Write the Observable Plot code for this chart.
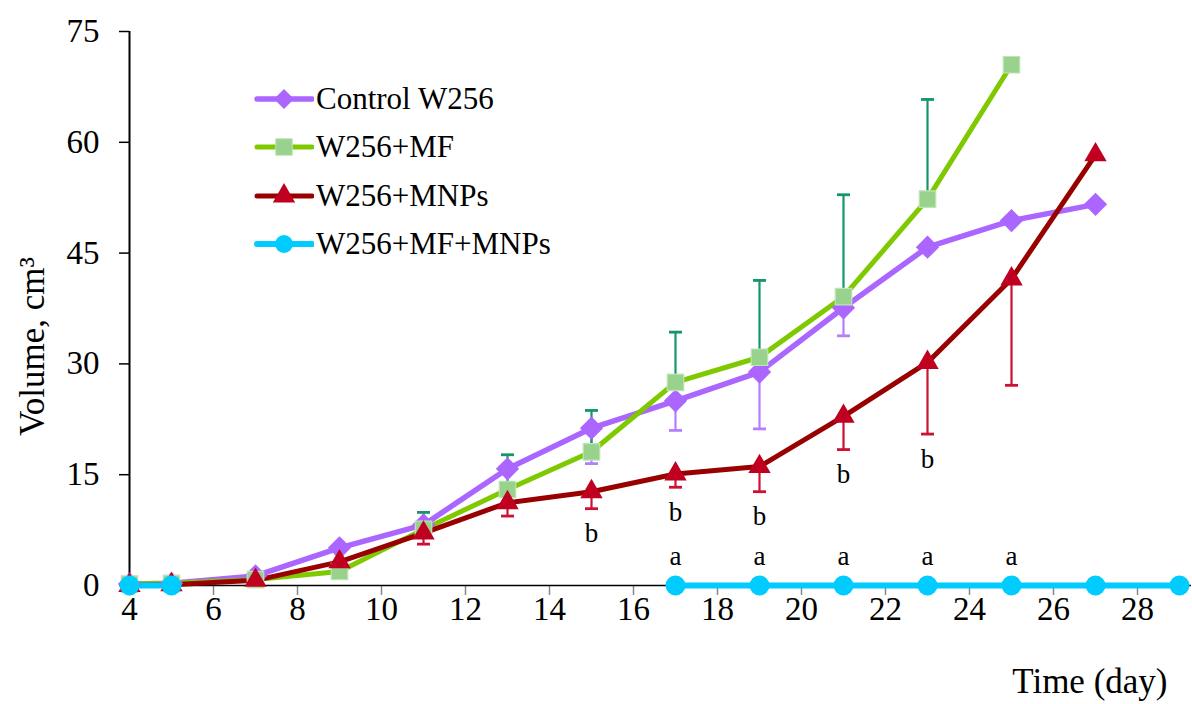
<!DOCTYPE html>
<html><head><meta charset="utf-8">
<script src="https://cdn.jsdelivr.net/npm/d3@7"></script>
<script src="https://cdn.jsdelivr.net/npm/@observablehq/plot@0.6"></script>
<style>
body{margin:0;background:#fff;}
#wrap{position:relative;width:1192px;height:704px;font-family:'Liberation Serif','Times New Roman',serif;}
#legend{position:absolute;left:250px;top:75px;font-family:'Liberation Serif','Times New Roman',serif;}
.row{display:flex;align-items:center;height:48.3px;font-size:31px;color:#000;white-space:nowrap;}
.row svg{display:block;margin-right:2px;}
</style></head><body><div id="wrap"></div>
<script>
// ---- data ----
const days = [4, 5, 7, 9, 11, 13, 15, 17, 19, 21, 23, 25, 27];
const control = [0.2, 0.3, 1.3, 5.1, 8.2, 15.8, 21.3, 25.0, 28.9, 37.6, 45.8, 49.4, 51.6];
const controlSD = [null, null, null, null, null, null, 4.8, 4.0, 7.7, 3.8, null, null, null];
const mfDays = [4, 5, 7, 9, 11, 13, 15, 17, 19, 21, 23, 25];
const mf = [0.2, 0.3, 0.8, 1.9, 7.6, 13.0, 18.1, 27.5, 30.9, 39.1, 52.3, 70.5];
const mfSD = [null, null, null, null, 2.3, 4.7, 5.6, 6.8, 10.4, 13.8, 13.5, null];
const mnps = [0.0, 0.1, 0.7, 3.2, 7.1, 11.2, 12.7, 15.1, 16.1, 22.9, 30.2, 41.5, 58.3];
const mnpsSD = [null, null, null, null, 1.5, 1.8, 2.3, 1.8, 3.4, 4.5, 9.7, 14.4, null];
const comboDays = [4, 5, 7, 9, 11, 13, 15, 17, 19, 21, 23, 25, 27, 29];
const combo = [0, 0, null, null, null, null, null, 0, 0, 0, 0, 0, 0, 0];
const seriesNames = ["Control W256", "W256+MF", "W256+MNPs", "W256+MF+MNPs"];
const xTicks = [4, 6, 8, 10, 12, 14, 16, 18, 20, 22, 24, 26, 28];
const yTicks = [0, 15, 30, 45, 60, 75];
const sigBDays = [15, 17, 19, 21, 23];   // "b" under W256+MNPs
const sigADays = [17, 19, 21, 23, 25];   // "a" above W256+MF+MNPs
const xTitle = "Time (day)";
const yTitle = "Volume, cm\u00B3";

// ---- styles ----
const C = {
  ctrl: "#aa66ff", ctrlErr: "#b57dff",
  mfLine: "#7fc900", mfFill: "#98d28d", mfStroke: "#bfe4b5", mfErr: "#14966a",
  mnLine: "#990000", mnMark: "#c00020", mnErr: "#cc1133",
  combo: "#00ccff"
};
const FONT = "'Liberation Serif','Times New Roman',serif";

const rows = (xs, ys, sds) => xs.map((d, i) => ({day: d, v: ys[i], sd: sds ? sds[i] : null}));
const ctrlRows = rows(days, control, controlSD);
const mfRows = rows(mfDays, mf, mfSD);
const mnRows = rows(days, mnps, mnpsSD);
const comboRows = rows(comboDays, combo);
const hasSD = r => r.sd != null;

const cap = {draw(ctx, size) { const w = Math.sqrt(size / Math.PI); ctx.moveTo(-w, 0); ctx.lineTo(w, 0); }};

function errMarks(data, dir, color) {
  const end = d => d.v + dir * d.sd;
  const f = data.filter(hasSD);
  return [
    Plot.ruleX(f, {x: "day", y1: "v", y2: end, stroke: color, strokeWidth: 2.2}),
    Plot.dot(f, {x: "day", y: end, symbol: cap, r: 6.5, stroke: color, strokeWidth: 2.8, fill: "none"})
  ];
}

const mnB = mnRows.filter(r => sigBDays.includes(r.day));
const aRows = comboRows.filter(r => sigADays.includes(r.day));

const chart = Plot.plot({
  width: 1192, height: 704,
  marginLeft: 129, marginRight: 13, marginTop: 31, marginBottom: 119,
  style: {fontFamily: FONT, fontSize: "30px", color: "#000", background: "#fff", overflow: "visible"},
  x: {domain: [4, 29], label: null},
  y: {domain: [0, 75], label: null},
  marks: [
    Plot.axisY({ticks: yTicks, tickSize: 10, tickPadding: 20, stroke: "#000", strokeWidth: 1.5, label: null, fontSize: 33, fontFamily: FONT, fontVariant: "normal"}),
    Plot.axisX({ticks: xTicks, tickSize: 10, tickPadding: 1, stroke: "#888", strokeWidth: 1.5, label: null, fontSize: 33, fontFamily: FONT, fontVariant: "normal"}),
    Plot.ruleY([0], {stroke: "#000", strokeWidth: 1.5, insetRight: -12}),
    Plot.ruleX([4], {y1: 0, y2: 75, stroke: "#000", strokeWidth: 2}),
    // lines
    Plot.line(ctrlRows, {x: "day", y: "v", stroke: C.ctrl, strokeWidth: 5.5}),
    Plot.line(mfRows, {x: "day", y: "v", stroke: C.mfLine, strokeWidth: 5}),
    Plot.line(mnRows, {x: "day", y: "v", stroke: C.mnLine, strokeWidth: 5}),
    Plot.line(comboRows, {x: "day", y: "v", stroke: C.combo, strokeWidth: 6}),
    // error bars
    ...errMarks(ctrlRows, -1, C.ctrlErr),
    ...errMarks(mfRows, 1, C.mfErr),
    ...errMarks(mnRows, -1, C.mnErr),
    // markers
    Plot.dot(ctrlRows, {x: "day", y: "v", symbol: "diamond2", r: 10.5, fill: C.ctrl}),
    Plot.dot(mfRows, {x: "day", y: "v", symbol: "square", r: 9.3, fill: C.mfFill, stroke: C.mfStroke, strokeWidth: 1.2}),
    Plot.dot(mnRows, {x: "day", y: "v", symbol: "triangle", r: 8.3, fill: C.mnMark}),
    Plot.dot(comboRows, {x: "day", y: "v", r: 10, fill: C.combo}),
    // significance letters
    Plot.text(mnB, {x: "day", y: d => d.v - d.sd, text: () => "b", dy: 25, fontSize: 27, fontFamily: FONT, fill: "#000"}),
    Plot.text(aRows, {x: "day", y: "v", text: () => "a", dy: -29, fontSize: 27, fontFamily: FONT, fill: "#000"}),
    // axis titles
    Plot.text([yTitle], {frameAnchor: "left", rotate: -90, dx: -97, dy: 38, fontSize: 35, fontFamily: FONT, fill: "#000", textAnchor: "middle", lineAnchor: "middle"}),
    Plot.text([xTitle], {frameAnchor: "bottom-right", dx: -12, dy: 96, fontSize: 35, fontFamily: FONT, fill: "#000", textAnchor: "end", lineAnchor: "middle"})
  ]
});
const wrap = document.getElementById("wrap");
wrap.appendChild(chart);

// ---- legend ----
const legend = document.createElement("div");
legend.id = "legend";
const legendSpec = [
  {name: seriesNames[0], line: C.ctrl, lw: 5.5, sym: d3.symbolDiamond2, r: 9, fill: C.ctrl},
  {name: seriesNames[1], line: C.mfLine, lw: 5, sym: d3.symbolSquare, r: 9.3, fill: C.mfFill, stroke: C.mfStroke},
  {name: seriesNames[2], line: C.mnLine, lw: 5, sym: d3.symbolTriangle, r: 8.3, fill: C.mnMark},
  {name: seriesNames[3], line: C.combo, lw: 6, sym: d3.symbolCircle, r: 9, fill: C.combo}
];
legendSpec.forEach(s => {
  const row = document.createElement("div");
  row.className = "row";
  const svg = d3.create("svg").attr("width", 64).attr("height", 30);
  svg.append("line").attr("x1", 7).attr("x2", 62).attr("y1", 15).attr("y2", 15)
    .attr("stroke", s.line).attr("stroke-width", s.lw).attr("stroke-linecap", "round");
  svg.append("path").attr("transform", "translate(34,15)")
    .attr("d", d3.symbol(s.sym, Math.PI * s.r * s.r)())
    .attr("fill", s.fill).attr("stroke", s.stroke || "none");
  row.appendChild(svg.node());
  const t = document.createElement("span");
  t.style.fontFamily = FONT;
  t.textContent = s.name;
  row.appendChild(t);
  legend.appendChild(row);
});
wrap.appendChild(legend);
</script>
</body></html>
